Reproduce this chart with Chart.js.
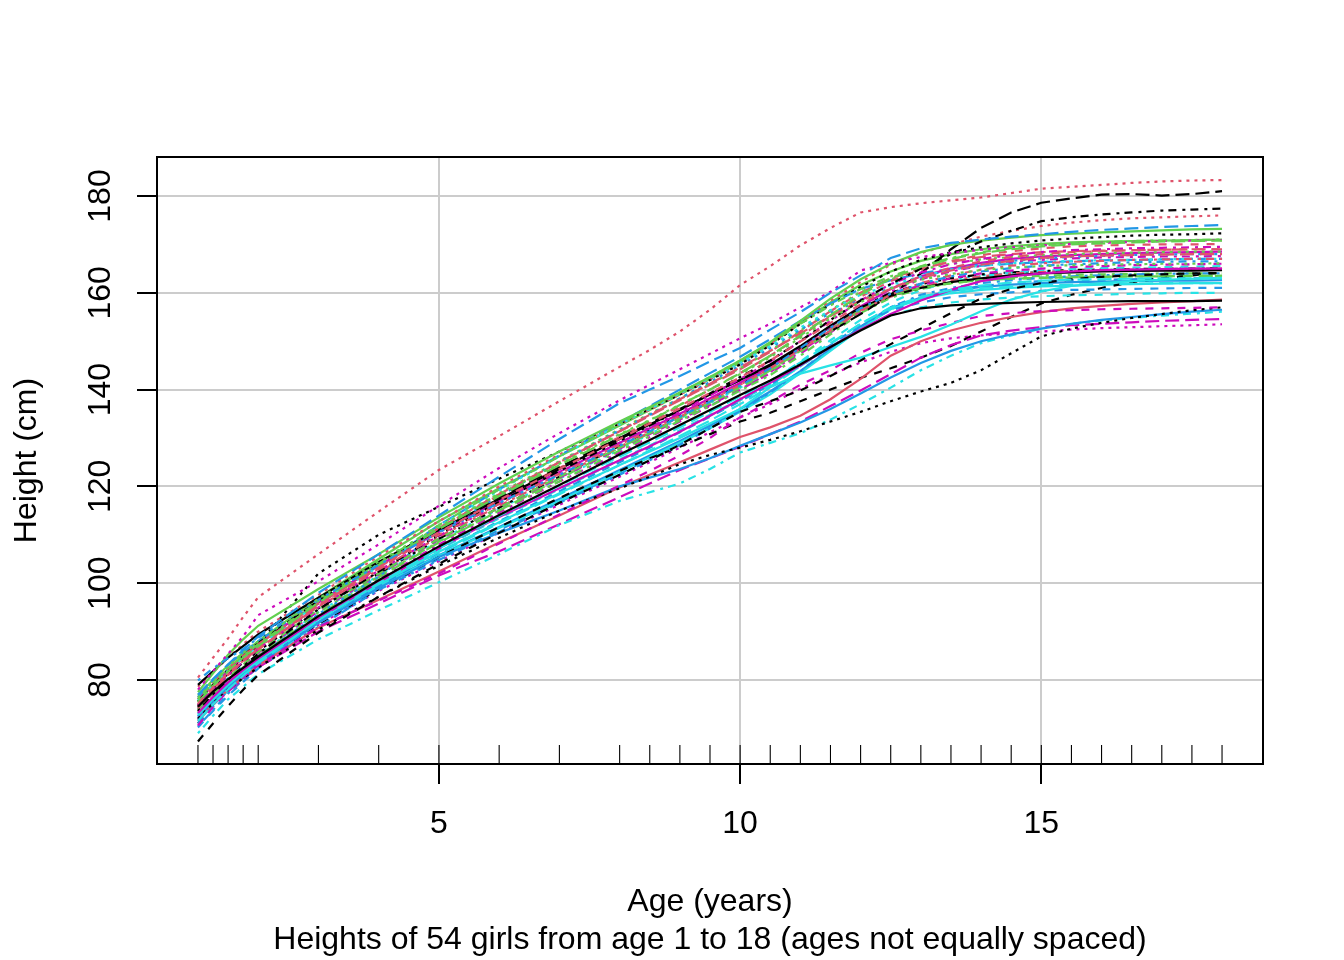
<!DOCTYPE html>
<html>
<head>
<meta charset="utf-8">
<script src="https://cdn.jsdelivr.net/npm/chart.js@4"></script>
<style>
  html, body { margin: 0; padding: 0; background: #fff; }
  canvas { display: block; }
</style>
</head>
<body>
<canvas id="growth" width="1344" height="960"></canvas>
<script>
const ages = [1,1.25,1.5,1.75,2,3,4,5,6,7,8,8.5,9,9.5,10,10.5,11,11.5,12,12.5,13,13.5,14,14.5,15,15.5,16,16.5,17,17.5,18];
const xTicks = [5,10,15];
const yTicks = [80,100,120,140,160,180];

const girl01 = [74.5,77.6,80.2,82.5,84.8,93.2,100.6,107.6,114.1,120.3,126.6,129.6,132.7,135.8,138.9,141.9,145.2,148.8,152.2,155.3,156.8,157.4,157.7,157.9,158.1,158.2,158.2,158.3,158.3,158.3,158.4];
const girl02 = [75.1,78.5,81.4,84,86.3,95.4,103.2,110.5,117.2,123.6,129.8,133,136.1,139.3,142.5,146,149.9,153.8,157.6,160.9,163.4,165.2,166.5,167.4,168,168.4,168.6,168.8,168.9,169,169];
const girl03 = [76.3,79.5,82.7,85.6,88,96.8,104.5,111.7,118.4,124.7,130.8,133.7,136.9,140,143.2,146.7,150.7,154.7,158.1,160.9,162.7,163.9,164.7,165.2,165.5,165.7,165.8,165.9,166,166,166.1];
const girl04 = [79.9,82.4,84.5,86.4,88.7,96.6,103.8,110.5,116.6,122.4,128.4,131.4,134.4,137.5,140.8,144.4,148.6,152.8,156.8,159.8,161.9,163.4,164.4,165.1,165.6,165.9,166.1,166.3,166.4,166.5,166.5];
const girl05 = [71.6,75,78,80.9,83.5,92.4,100,107.2,113.9,120.2,126.2,129.1,132.2,135.4,138.6,141.8,145.6,149.6,153.6,156.9,159.1,160.6,161.5,162.1,162.5,162.7,162.8,162.9,163,163,163.1];
const girl06 = [73.2,76.5,79.5,82.1,84.4,92.8,100.2,107.2,113.7,119.6,125.4,128.3,131.3,134.6,138,141.4,145,148.8,152.4,155.6,158.4,160.6,162.4,163.4,164,164.4,164.7,164.8,164.9,165,165];
const girl07 = [67.3,71,74.6,78,81,89.8,97.2,104,110.4,116.6,122.4,125.4,128.6,132,135.4,137.6,139.8,142.8,146,149.4,152.6,155.8,158.8,160.8,162,162.8,163.3,163.6,163.8,164,164.1];
const girl08 = [80.5,84.6,88.6,93,97.1,106,114.8,123.4,130.4,137.6,144.7,148.2,152,156.5,161.6,165.5,169.8,173.4,176.6,177.7,178.5,179.1,179.7,180.6,181.5,181.9,182.3,182.7,183,183.2,183.3];
const girl09 = [76,79.4,82.4,85,87.4,96.3,104,112,119.4,126.2,133,136.2,139.4,142.6,146,149.6,153.6,157.4,160.8,163.4,165.5,167.2,168.4,169.2,169.8,170.2,170.5,170.7,170.8,170.9,171];
const girl10 = [76.5,80,83.2,86.2,89,98,106,114,122,129.8,137.2,140,142.8,145.8,148.6,152.4,156,160,163.6,167.2,169.2,170.3,171,171.6,172.1,172.6,173,173.3,173.6,173.8,174];
const girl11 = [72.8,76,79,81.6,84,92.6,99.8,106.5,112.6,118.6,124.4,127.2,130,133,136,140.5,143.3,145,146.6,148.8,150.9,153.4,156.2,158.6,160.3,161.4,162,162.4,162.7,162.9,163];
const girl12 = [70.6,74.4,77.8,80.6,83,91,96.4,102,108.2,114.2,120.2,123.2,126.4,130,134.3,137.5,141,144,147.6,150.4,152.2,153.8,155.2,155.8,156.2,156.4,156.6,156.7,156.8,156.9,157];
const girl13 = [72,75.2,78,80.4,82.6,90.4,97.2,103.6,109.4,115,119.6,122,124.6,126.5,128,129.6,131.4,133.4,135.4,137.6,139.6,141.4,144,147.5,151,152.6,153.8,154.8,155.6,156.4,157];
const girl14 = [74.2,77.8,81,84,86.4,95.2,102.8,110,116.4,122.6,128.6,131.6,134.6,137.8,141,144.4,148.2,152.2,156.2,159.6,162,163.6,164.8,165.6,166.1,166.4,166.6,166.8,166.9,167,167];
const girl15 = [75.4,78.8,81.8,84.6,87,96,103.8,111.2,118,124.4,130.6,133.6,136.8,140,143.4,147,151.2,155.4,159.6,163,165.4,167,168.2,169,169.6,170,170.2,170.4,170.6,170.7,170.8];
const girl16 = [72.5,75.6,78.6,81.2,83.6,91.8,99,105.4,110.4,115,120,121.8,123.6,125.8,128.4,130.8,133.2,136,139.2,142.5,145.5,148,150,151.4,152.6,153.6,154.4,155,155.6,156.1,156.5];
const girl17 = [73,76.2,79.2,81.8,84.2,92.8,100,107,113.4,119.6,125.6,128.4,131.4,134.6,137.8,141,144.8,148.8,152.6,155.4,157,158,158.6,159,159.3,159.5,159.6,159.8,159.9,160,160];
const girl18 = [78,81.8,85.4,89,93.4,100.4,108,116,123.8,131,137.8,141,144.2,147.4,150.6,153.6,157,160.2,164.6,166.2,167.4,168.2,168.9,169.4,169.8,170.1,170.3,170.5,170.7,170.8,170.9];
const girl19 = [73.6,77,80,82.8,85.4,94.6,102.4,110,116.8,123.2,129.4,132.6,135.8,139.2,142.6,146,150,154.4,158.4,161.8,165,168,170.6,172.8,174.8,175.6,176.2,176.6,177,177.2,177.4];
const girl20 = [76.4,79.6,82.4,85,87.4,95.8,103.2,111.4,118.4,125,131.4,134.8,138,141.2,144.6,148,151.6,155.2,158.4,160.8,163,164.6,165.8,166.6,167.2,167.5,167.7,167.8,167.9,168,168];
const girl21 = [77.5,81.4,85.2,88.4,91.2,98.8,106,113.6,120.6,127.2,133.4,136.4,139.4,142.6,146,149.8,154.2,158.8,162.8,166,168.4,169.9,170.8,171.4,171.9,172.2,172.5,172.7,172.9,173.1,173.2];
const girl22 = [71,74.6,77.8,80.4,83.2,91.8,99.4,106.4,112.8,119,125,128,131.2,134.4,137.6,141,145,149.2,153.4,156.4,158,159.1,159.7,160.1,160.4,160.6,160.7,160.8,160.9,161,161];
const girl23 = [75.8,79,82,84.6,87,95.8,103.4,111.8,119.2,126.2,132.8,136,139.2,142.4,145.6,149,152.8,156.4,159.6,161.6,163.4,164.8,165.6,166.1,166.4,166.6,166.7,166.8,166.9,167,167];
const girl24 = [74.8,78,81,83.8,86.4,95,102.6,109.8,116.4,122.8,129,132.2,135.4,138.8,142.2,145.8,150,154.2,158.4,161.8,164.2,165.9,167,167.8,168.4,168.8,169,169.2,169.3,169.4,169.5];
const girl25 = [75.5,79,82.2,85,87.6,96.4,104,111,117.8,124,130,133,136,139,142,145,148.4,152,155.6,159.6,164,169,173.4,176.6,178.6,179.5,180.3,180.4,180.1,180.4,181];
const girl26 = [71.6,75,78,80.6,83,90.8,96.6,102.4,108.4,114,119.8,122.4,125,127.6,130.2,132.2,134.6,138,142.2,147,150,152.2,153.8,155,156,156.8,157.3,157.7,158,158.3,158.6];
const girl27 = [74,77.4,80.4,83.2,85.8,94.6,102,109.2,115.6,122,128,131,134,137.2,140.4,143.8,147.8,152,156.4,159.4,161,162,162.6,162.9,163.1,163.2,163.3,163.4,163.4,163.5,163.5];
const girl28 = [73,76.4,79.6,82.4,84.8,93.6,101.4,110.6,118,125,131.6,134.8,138.2,141.6,145,148.6,152.4,155.8,158.6,161,163.2,164.8,165.9,166.6,167.1,167.4,167.6,167.8,167.9,168,168];
const girl29 = [69,72.6,76,78.6,81.2,88.4,94.4,100.2,106,112,117,118.8,120.6,123.6,127,129,131,133.8,137,140.4,144,147,149.6,151.2,152.6,153.6,154.3,154.8,155.3,155.7,156.1];
const girl30 = [72.2,75,77.6,80.2,82.6,90,95.8,101.6,106.6,112.2,117.8,120.6,123.4,125.8,128.2,130.8,133.4,136.6,139.8,143.2,146.6,149.2,151.2,152.2,152.9,153.3,153.6,153.9,154.2,154.4,154.6];
const girl31 = [79,81.8,84.6,87,89.4,97,104.4,111,117.4,123.6,129.8,132.8,135.8,139,142,145.2,149,153.2,157,159.4,161,162.2,163,163.6,164,164.2,164.4,164.5,164.6,164.6,164.7];
const girl32 = [74.6,78,81,83.8,86.4,95.4,103,110.6,117.4,123.8,130.2,133.4,136.6,140,143.4,147,151,155.2,159.2,162.4,164.8,166.6,167.8,168.6,169.2,169.6,169.8,169.9,170,170,170.1];
const girl33 = [75.6,79,82,84.8,87.2,96,104,111.4,118.6,125.2,131.8,135,138.2,141.2,144.4,148,152.2,156.4,160.2,162.8,164.8,166,166.9,167.4,167.8,168,168.2,168.3,168.4,168.5,168.5];
const girl34 = [70.4,73.8,77.2,80,82.6,91,98.6,104.8,110.6,116.6,122.4,125.4,128.6,132,135.6,139.4,143.8,148.6,153,157,159.6,161,162,162.6,163.1,163.4,163.6,163.8,163.9,164,164];
const girl35 = [72.4,75.8,79,81.6,84.2,93,100.6,106.2,112.4,118.4,124.4,127.4,130.4,133.6,137,140.6,144.8,149.4,153.6,157,159.2,160.3,161,161.3,161.6,161.7,161.8,161.9,162,162,162];
const girl36 = [76,79,82,84.8,87.4,96,103.6,110.6,117,123,129,132,135,138.2,141.4,144.8,148.8,153,157.2,160.8,163.4,165,166.2,167,167.5,167.8,168,168.2,168.3,168.4,168.5];
const girl37 = [71,74.6,78,80.8,83.4,91.6,98.8,105.4,111.6,117.6,123.2,125.8,128.2,130.8,133.4,135.2,137.6,140,142.4,144.4,146.6,149,152,155,157.8,159.6,161,162.2,163,163.6,164.2];
const girl38 = [78.6,81.6,84.6,87.4,90,97.6,105.6,112.8,120,126.6,132.8,135.8,139,142.2,145.8,149.4,154,158.4,162.2,165.8,168.2,170,171.6,172.8,173.8,174.5,175,175.4,175.6,175.8,176];
const girl39 = [73.4,76.8,79.8,82.6,85,94,101.4,108.6,115,121,127.4,130.4,133.6,136.6,139.8,143,147,151.4,155.8,159,160.8,162,162.8,163.2,163.5,163.7,163.8,163.9,164,164,164];
const girl40 = [77,80.2,83.2,85.8,88,96.2,103.4,112,119.4,126.4,133.2,136.6,140,143.4,146.8,150.4,154.2,157.8,160.8,162.6,164,165,165.6,166,166.3,166.5,166.7,166.8,166.9,167,167];
const girl41 = [71.4,74.8,77.8,80.4,83,91.8,99.4,105.6,111.4,117,123,126,129,132,135.4,139,143.4,148,152.6,156.6,158.8,159.9,160.6,161,161.3,161.5,161.7,161.8,161.9,162,162];
const girl42 = [74,77.2,80.2,83,85.6,94.2,101.8,109,115.6,121.8,127.8,130.8,133.8,136.8,140,143.4,147.4,151.8,156,159.4,161.6,163,164,164.6,165,165.3,165.5,165.7,165.8,165.9,166];
const girl43 = [74.4,78,81.4,84.4,87.4,102,110,115.8,121.6,127.2,133,136,139,142,145.2,149.2,153.6,157.6,161.2,164.4,166.8,168.4,169.4,170.2,170.8,171.2,171.5,171.8,172,172.1,172.3];
const girl44 = [76,79.2,82,84.4,86.8,95.2,102.2,109.6,116,122.2,128.2,131.2,134.4,137.6,141,144.4,148.4,152.4,156.4,159.2,161.2,162.6,163.4,164,164.3,164.5,164.7,164.8,164.9,165,165];
const girl45 = [73.8,77,80,82.6,85,93.4,101.2,108.4,115,121.6,128,131,134.2,137.4,140.6,144,148,152.4,156.6,159.6,161.2,162,162.6,162.9,163.1,163.2,163.3,163.4,163.4,163.5,163.5];
const girl46 = [72,75.4,78.2,81,83.4,92,99.6,105.8,111.6,117.4,123.4,126.4,129.4,132.6,136,139.6,143.8,148.4,153,156.8,159,160.4,161.2,161.7,162,162.2,162.3,162.4,162.5,162.5,162.6];
const girl47 = [72.6,75.8,78.8,81.6,84,92.4,100,107,113.6,119.4,125.4,128.4,131.6,134.8,138,141.6,145.8,150.2,154.4,158,160.6,162.2,163.4,164.2,164.6,164.9,165.1,165.2,165.3,165.4,165.5];
const girl48 = [71.8,75,78,80.6,83,91.4,98.4,104.6,110.4,116.2,122,125,128,131.2,134.2,137,140.2,143,145.6,147.8,149.6,150.6,151.2,151.6,152,152.4,152.7,152.9,153.1,153.3,153.5];
const girl49 = [74.8,78,81,83.6,86,94.8,102,109.2,115.6,122,128.4,131.6,134.8,138,141.2,144.8,148.8,153,157,160,161.8,163,163.8,164.2,164.5,164.7,164.8,164.9,165,165,165.1];
const girl50 = [75,78.2,81.2,84,86.8,95.6,103.8,111.4,118.2,125,131.4,134.6,137.8,141,144.2,147.8,152,156.2,160,163,165,166.4,167.4,168,168.4,168.6,168.7,168.8,168.9,169,169];
const girl51 = [76.8,80,83,85.6,88,97,105,112.8,119.6,126.2,132.6,135.8,139,142.2,145.6,149.4,153.8,158,161.6,164.4,166.6,168,169,169.6,170.1,170.4,170.6,170.7,170.8,170.9,171];
const girl52 = [70.2,73.6,76.8,79.6,82.4,91,98.8,105,111,116.8,122.6,125.8,129,132.4,135.8,139.4,143.6,148.2,152.8,156.6,159,160.4,161.4,162,162.4,162.6,162.7,162.8,162.9,163,163];
const girl53 = [74.2,77.4,80.4,83,85.2,94,101.6,108.8,115.4,121.6,127.6,130.8,134,137.2,140.4,144,148.2,152.6,156.8,159.6,161.6,162.8,163.6,164.1,164.4,164.6,164.7,164.8,164.9,165,165];
const girl54 = [73.6,76.8,79.8,82.4,84.8,93.2,100.8,108,114.6,121,127,130.2,133.4,136.6,140,143.6,147.8,152.2,156.6,160.2,162.8,164.4,165.6,166.4,166.8,167.1,167.3,167.4,167.5,167.5,167.6];

const girls = [
  girl01, girl02, girl03, girl04, girl05, girl06, girl07, girl08, girl09,
  girl10, girl11, girl12, girl13, girl14, girl15, girl16, girl17, girl18,
  girl19, girl20, girl21, girl22, girl23, girl24, girl25, girl26, girl27,
  girl28, girl29, girl30, girl31, girl32, girl33, girl34, girl35, girl36,
  girl37, girl38, girl39, girl40, girl41, girl42, girl43, girl44, girl45,
  girl46, girl47, girl48, girl49, girl50, girl51, girl52, girl53, girl54,
];

// same cycling as matplot: colours repeat every 6, line types every 5
const palette = ["#000000", "#DF536B", "#61D04F", "#2297E6", "#28E2E5", "#CD0BBC"];
const dashes = [[], [8, 8], [3, 5], [3, 5, 8, 6], [14, 6]];

const FONT = "'Liberation Sans', Arial, sans-serif";
const font = { family: FONT, size: 32 };

const setTicks = (values) => (scale) => {
  scale.ticks = values.map((value) => ({ value }));
};

// box round the plot and the rug of measuring ages along the bottom
const boxAndRug = {
  id: "boxAndRug",
  afterDraw(chart) {
    const { ctx, chartArea, scales } = chart;
    ctx.save();
    ctx.strokeStyle = "#000";
    ctx.lineWidth = 1.1;
    ages.forEach((age) => {
      const x = scales.x.getPixelForValue(age);
      ctx.beginPath();
      ctx.moveTo(x, chartArea.bottom);
      ctx.lineTo(x, chartArea.bottom - 19);
      ctx.stroke();
    });
    ctx.lineWidth = 2;
    ctx.strokeRect(chartArea.left, chartArea.top, chartArea.right - chartArea.left, chartArea.bottom - chartArea.top);
    ctx.restore();
  },
};

new Chart(document.querySelector("#growth"), {
  type: "line",
  plugins: [boxAndRug],
  data: {
    datasets: girls.map((heights, i) => ({
      label: `girl${i + 1}`,
      data: heights.map((h, j) => ({ x: ages[j], y: h })),
      borderColor: palette[i % 6],
      borderDash: dashes[i % 5],
      borderWidth: 2.2,
      pointRadius: 0,
      tension: 0,
      fill: false,
    })),
  },
  options: {
    responsive: false,
    animation: false,
    layout: { padding: { top: 157, right: 81, left: 0, bottom: 0 } },
    plugins: { legend: { display: false }, tooltip: { enabled: false } },
    scales: {
      x: {
        type: "linear",
        min: 0.32,
        max: 18.68,
        afterBuildTicks: setTicks(xTicks),
        afterFit: (scale) => { scale.height = 196; },
        border: { display: false },
        grid: { color: "#cccccc", lineWidth: 2, tickColor: "#000", tickLength: 20, tickWidth: 2 },
        ticks: { font, color: "#000", padding: 21, autoSkip: false, maxRotation: 0, callback: (v) => String(v) },
        title: {
          display: true,
          text: ["Age (years)", "Heights of 54 girls from age 1 to 18 (ages not equally spaced)"],
          font: { family: FONT, size: 32, lineHeight: 1.1875 },
          color: "#000",
          padding: { top: 0, bottom: 1 },
        },
      },
      y: {
        min: 62.64,
        max: 188.06,
        afterBuildTicks: setTicks(yTicks),
        afterFit: (scale) => { scale.width = 157; },
        border: { display: false },
        grid: { color: "#cccccc", lineWidth: 2, tickColor: "#000", tickLength: 20, tickWidth: 2 },
        ticks: { font, color: "#000", padding: 9, autoSkip: false, minRotation: 90, maxRotation: 90, crossAlign: "center", callback: (v) => String(v) },
        title: {
          display: true,
          text: "Height (cm)",
          font,
          color: "#000",
          padding: { top: 8, bottom: 0 },
        },
      },
    },
  },
});
</script>
</body>
</html>
